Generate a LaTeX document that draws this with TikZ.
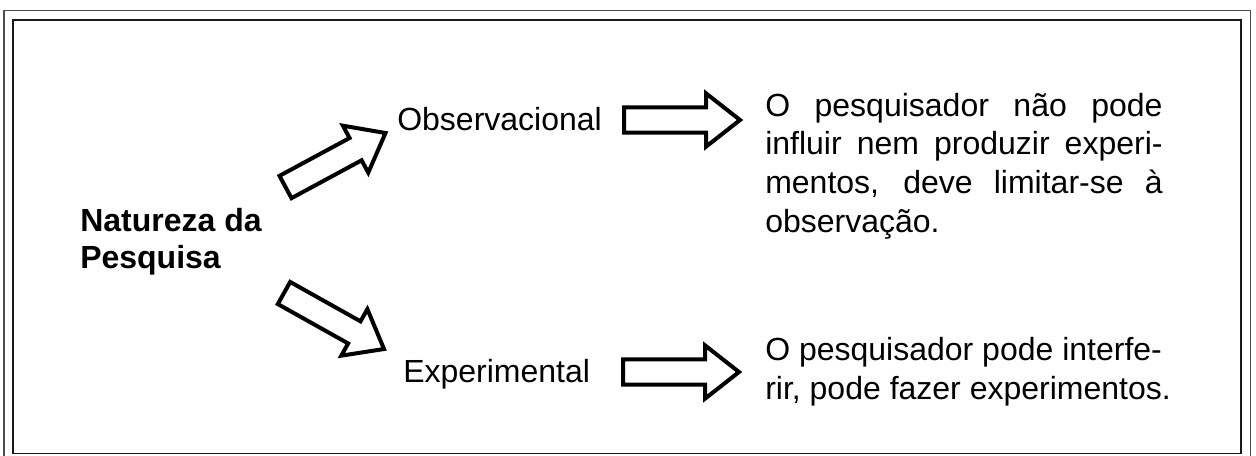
\documentclass[tikz,border=0pt]{standalone}
\usepackage{fontspec}
\setmainfont{Liberation Sans}
\usetikzlibrary{calc}

\tikzset{
  txt/.style={inner sep=0pt, font=\fontsize{24pt}{29pt}\selectfont},
  blockline/.style={draw=black, line width=3pt, line join=miter, fill=white},
  frameline/.style={line width=1.2pt}
}
\newcommand\bodyhw{9.5pt}
\newcommand\headhw{20pt}
\newcommand\headlen{25.5pt}
% hollow block arrow from #1 to #2
\newcommand\blockarrow[2]{%
  \coordinate (headbase) at ($(#2)!\headlen!(#1)$);
  \draw[blockline] ($(#1)!\bodyhw!90:(#2)$) -- ($(headbase)!\bodyhw!90:(#2)$)
    -- ($(headbase)!\headhw!90:(#2)$) -- (#2) -- ($(headbase)!\headhw!-90:(#2)$)
    -- ($(headbase)!\bodyhw!-90:(#2)$) -- ($(#1)!\bodyhw!-90:(#2)$) -- cycle;
}

\begin{document}
\begin{tikzpicture}[x=0.75pt, y=-0.75pt]
  \useasboundingbox (0,0) rectangle (1256,455);
  %frames
  \draw[frameline, black!70] (4,460) -- (4,10.5) -- (1250.5,10.5) -- (1250.5,460);
  \draw[frameline, black!90] (13,20) rectangle (1241,453.5);

  \node[txt, align=left, anchor=base west,
    font=\fontsize{24pt}{28pt}\selectfont\bfseries] (nat) at (80,268.5) {Natureza da\\Pesquisa};
  \node[txt, anchor=base west] (obs) at (397,130) {Observacional};
  \node[txt, anchor=base west] (exp) at (403,382) {Experimental};
  \node[txt, text width=298pt, align=justify, anchor=base west] (obsnote) at (765,116)
    {\sloppy\hyphenpenalty=10000 O pesquisador não pode\linebreak influir nem produzir experi-\linebreak mentos, deve limitar-se à\linebreak observação.};
  \node[txt, align=left, anchor=base west] (expnote) at (765,399)
    {O pesquisador pode interfe-\\rir, pode fazer experimentos.};

  \coordinate (nat-up) at (285.5,187);
  \coordinate (obs-in) at (385.5,133);
  \coordinate (nat-down) at (284,293);
  \coordinate (exp-in) at (384,349);
  \coordinate (obs-out) at (624,120);
  \coordinate (obsnote-in) at (740,120);
  \coordinate (exp-out) at (623,372);
  \coordinate (expnote-in) at (739,372);

  \blockarrow{nat-up}{obs-in}
  \blockarrow{nat-down}{exp-in}
  \blockarrow{obs-out}{obsnote-in}
  \blockarrow{exp-out}{expnote-in}
\end{tikzpicture}
\end{document}
